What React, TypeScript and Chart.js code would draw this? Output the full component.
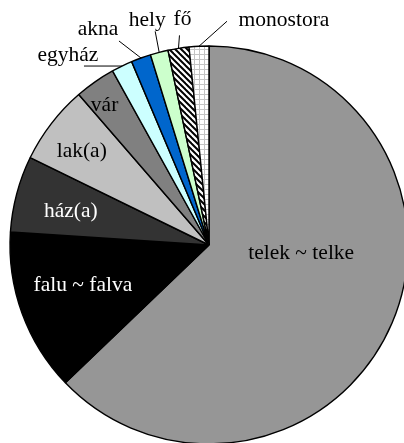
import React, { useEffect, useRef } from 'react';
import { Chart, registerables } from 'chart.js';

Chart.register(...registerables);

// ---- data ----
const categories = [
  'telek ~ telke',
  'falu ~ falva',
  'ház(a)',
  'lak(a)',
  'vár',
  'egyház',
  'akna',
  'hely',
  'fő',
  'monostora',
];
const values = [62.8, 13.2, 6.2, 6.4, 3.3, 1.7, 1.6, 1.45, 1.7, 1.6];

// ---- styles ----
const solidColors = ['#969696', '#000000', '#333333', '#c0c0c0', '#808080', '#ccffff', '#0066cc', '#ccffcc'];
const FONT = '21.5px "Liberation Serif", "Times New Roman", Times, "DejaVu Serif", serif';

type LabelStyle =
  | { inside: true; t: number; r: number; color: string }
  | { inside: false; lx: number; ly: number; tx: number; ty: number };

const labelLayout: LabelStyle[] = [
  { inside: true, t: 0.42, r: 0.465, color: '#000' },
  { inside: true, t: 0.55, r: 0.665, color: '#fff' },
  { inside: true, t: 0.45, r: 0.715, color: '#fff' },
  { inside: true, t: 0.45, r: 0.795, color: '#000' },
  { inside: true, t: 0.34, r: 0.875, color: '#000' },
  { inside: false, lx: -38, ly: 0, tx: -54, ty: -11 },
  { inside: false, lx: -22, ly: -17, tx: -43, ty: -29 },
  { inside: false, lx: -4, ly: -21, tx: -12, ty: -32 },
  { inside: false, lx: 1, ly: -13, tx: 4, ty: -29 },
  { inside: false, lx: 28, ly: -25, tx: 85, ty: -26 },
];

function makeHatch(): CanvasPattern | string {
  const c = document.createElement('canvas');
  c.width = 6;
  c.height = 6;
  const g = c.getContext('2d');
  if (!g) return '#888';
  g.fillStyle = '#ffffff';
  g.fillRect(0, 0, 6, 6);
  g.strokeStyle = '#000000';
  g.lineWidth = 2;
  for (let k = -1; k <= 1; k++) {
    g.beginPath();
    g.moveTo(k * 6 - 1, -1);
    g.lineTo(k * 6 + 7, 7);
    g.stroke();
  }
  return g.createPattern(c, 'repeat') || '#888';
}

function makeGrid(): CanvasPattern | string {
  const c = document.createElement('canvas');
  c.width = 5;
  c.height = 5;
  const g = c.getContext('2d');
  if (!g) return '#fff';
  g.fillStyle = '#ffffff';
  g.fillRect(0, 0, 5, 5);
  g.fillStyle = '#c4c4c4';
  g.fillRect(4, 0, 1, 5);
  g.fillRect(0, 4, 5, 1);
  return g.createPattern(c, 'repeat') || '#fff';
}

const labelPlugin = {
  id: 'pieLabels',
  afterDatasetsDraw(chart: any) {
    const ctx: CanvasRenderingContext2D = chart.ctx;
    const meta = chart.getDatasetMeta(0);
    ctx.save();
    ctx.font = FONT;
    ctx.textAlign = 'center';
    ctx.textBaseline = 'middle';
    meta.data.forEach((arc: any, i: number) => {
      const { x, y, startAngle, endAngle, outerRadius } = arc.getProps(
        ['x', 'y', 'startAngle', 'endAngle', 'outerRadius'],
        true
      );
      const L = labelLayout[i];
      if (L.inside) {
        const a = startAngle + (endAngle - startAngle) * L.t;
        const px = x + Math.cos(a) * outerRadius * L.r;
        const py = y + Math.sin(a) * outerRadius * L.r;
        ctx.fillStyle = L.color;
        ctx.fillText(categories[i], px, py);
      } else {
        const a = (startAngle + endAngle) / 2;
        const mx = x + Math.cos(a) * outerRadius;
        const my = y + Math.sin(a) * outerRadius;
        ctx.strokeStyle = '#000';
        ctx.lineWidth = 1;
        ctx.beginPath();
        ctx.moveTo(mx, my);
        ctx.lineTo(mx + L.lx, my + L.ly);
        ctx.stroke();
        ctx.fillStyle = '#000';
        ctx.fillText(categories[i], mx + L.tx, my + L.ty);
      }
    });
    ctx.restore();
  },
};

export default function App() {
  const ref = useRef<HTMLCanvasElement | null>(null);
  useEffect(() => {
    if (!ref.current) return;
    const bg = [...solidColors, makeHatch(), makeGrid()];
    const chart = new Chart(ref.current, {
      type: 'pie',
      data: {
        labels: categories,
        datasets: [
          {
            data: values,
            backgroundColor: bg as any,
            borderColor: '#000000',
            borderWidth: 1.4,
            hoverOffset: 0,
          },
        ],
      },
      options: {
        animation: false,
        responsive: false,
        devicePixelRatio: 1,
        radius: 199,
        layout: { padding: 0 },
        plugins: {
          legend: { display: false },
          tooltip: { enabled: false },
        },
      } as any,
      plugins: [labelPlugin],
    });
    let alive = true;
    const fonts: any = (document as any).fonts;
    if (fonts && fonts.load) {
      fonts
        .load(FONT, 'telek ~ telke')
        .then(() => fonts.ready)
        .then(() => {
          if (alive) chart.draw();
        })
        .catch(() => {});
    }
    return () => {
      alive = false;
      chart.destroy();
    };
  }, []);
  return (
    <div
      style={{
        position: 'absolute',
        left: 0,
        top: 0,
        width: 404,
        height: 443,
        overflow: 'hidden',
        background: '#ffffff',
      }}
    >
      <canvas ref={ref} width={418} height={490} style={{ display: 'block', width: 418, height: 490 }} />
    </div>
  );
}
